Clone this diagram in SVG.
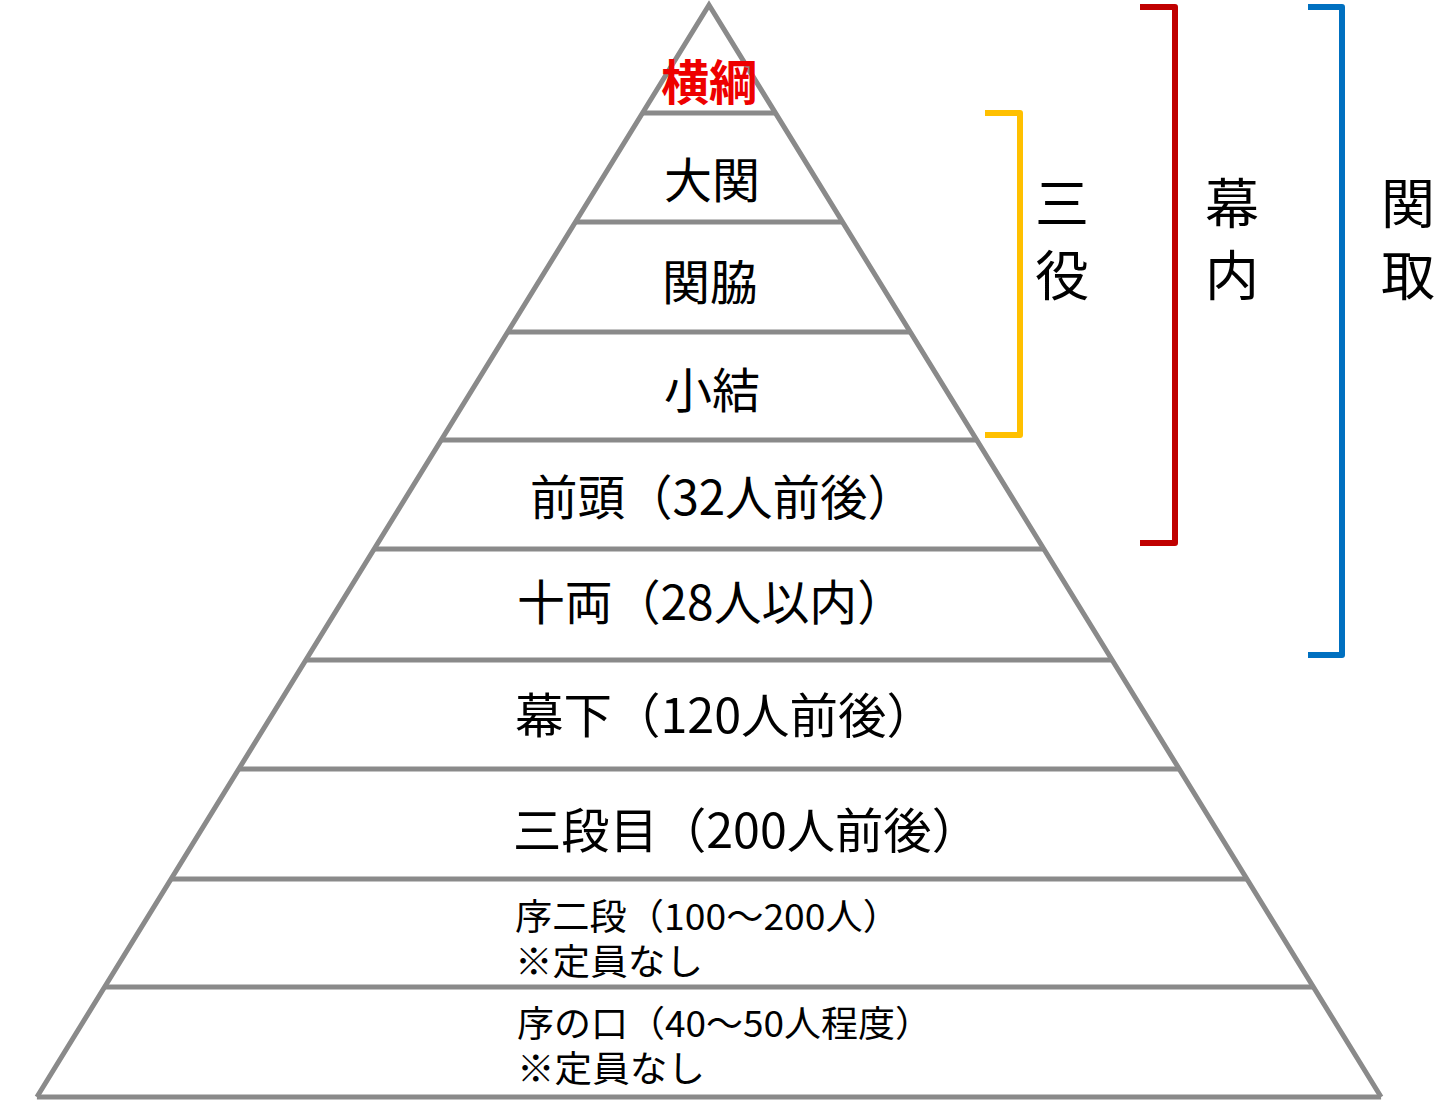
<svg xmlns="http://www.w3.org/2000/svg" width="1440" height="1104" viewBox="0 0 1440 1104">
<style>
.ln{stroke:#8a8a8a;stroke-width:5;fill:none}
.t{font-family:"Noto Sans CJK JP",sans-serif;fill:#000}
.b{font-size:48px}
.s{font-size:36px}
.v{font-size:54px;text-anchor:middle}
.br{fill:none;stroke-width:6;stroke-linejoin:round}
</style>
<rect width="1440" height="1104" fill="#fff"/>
<g id="pyramid">
<polyline class="ln" points="36.9,1097 709,5 1381.1,1097"/>
<line class="ln" x1="642.5" y1="113" x2="775.5" y2="113"/>
<line class="ln" x1="575.4" y1="222" x2="842.6" y2="222"/>
<line class="ln" x1="507.7" y1="332" x2="910.3" y2="332"/>
<line class="ln" x1="441.3" y1="440" x2="976.7" y2="440"/>
<line class="ln" x1="374.2" y1="549" x2="1043.8" y2="549"/>
<line class="ln" x1="305.8" y1="660" x2="1112.2" y2="660"/>
<line class="ln" x1="238.8" y1="769" x2="1179.2" y2="769"/>
<line class="ln" x1="171" y1="879" x2="1247" y2="879"/>
<line class="ln" x1="104.6" y1="987" x2="1313.4" y2="987"/>
<line class="ln" x1="36.9" y1="1097" x2="1381.1" y2="1097"/>
</g>
<g id="labels">
<text class="t b" x="709" y="100" text-anchor="middle" style="fill:#e00;font-weight:bold">横綱</text>
<text class="t b" x="712" y="198" text-anchor="middle">大関</text>
<text class="t b" x="710" y="300" text-anchor="middle">関脇</text>
<text class="t b" x="712" y="408" text-anchor="middle">小結</text>
<text class="t b" x="530" y="515" textLength="385" lengthAdjust="spacingAndGlyphs">前頭（32人前後）</text>
<text class="t b" x="517" y="620" textLength="388" lengthAdjust="spacingAndGlyphs">十両（28人以内）</text>
<text class="t b" x="515" y="733" textLength="420" lengthAdjust="spacingAndGlyphs">幕下（120人前後）</text>
<text class="t b" x="513" y="848" textLength="467" lengthAdjust="spacingAndGlyphs">三段目（200人前後）</text>
<text class="t s" x="515" y="930" textLength="385" lengthAdjust="spacingAndGlyphs">序二段（100～200人）</text>
<text class="t s" x="515" y="975" textLength="188" lengthAdjust="spacingAndGlyphs">※定員なし</text>
<text class="t s" x="517" y="1037" textLength="415" lengthAdjust="spacingAndGlyphs">序の口（40～50人程度）</text>
<text class="t s" x="517" y="1082" textLength="188" lengthAdjust="spacingAndGlyphs">※定員なし</text>
</g>
<g id="brackets">
<path class="br" stroke="#FFC000" d="M985,113 H1020 V435 H985"/>
<path class="br" stroke="#C00000" d="M1140,7 H1175 V543 H1140"/>
<path class="br" stroke="#0070C0" d="M1308,7 H1342 V655 H1308"/>
<text class="t v" x="1062" y="224">三</text>
<text class="t v" x="1062" y="296">役</text>
<text class="t v" x="1232" y="224">幕</text>
<text class="t v" x="1232" y="296">内</text>
<text class="t v" x="1408" y="224">関</text>
<text class="t v" x="1408" y="296">取</text>
</g>
</svg>
